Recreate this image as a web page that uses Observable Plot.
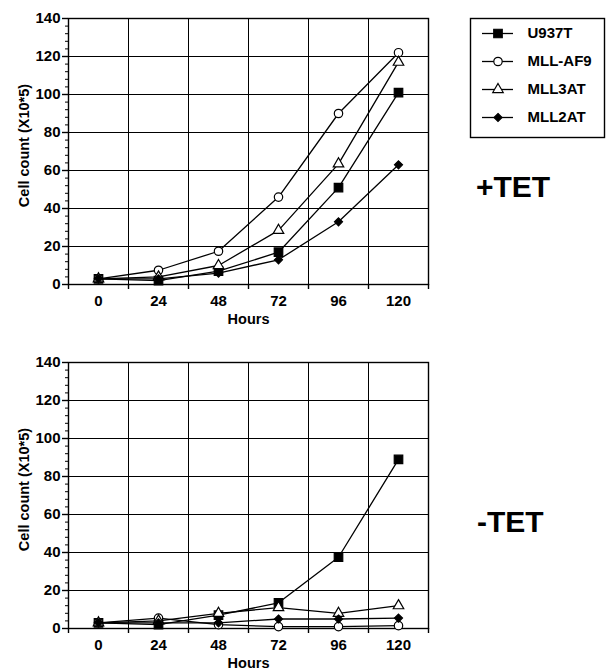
<!DOCTYPE html>
<html>
<head>
<meta charset="utf-8">
<script src="https://cdn.jsdelivr.net/npm/d3@7"></script>
<script src="https://cdn.jsdelivr.net/npm/@observablehq/plot@0.6"></script>
<style>
  html, body { margin: 0; padding: 0; background: white; }
  #page { position: relative; width: 608px; height: 671px; overflow: hidden; font-family: "Liberation Sans", Arial, sans-serif; }
  .abs { position: absolute; }
  .cond { font-weight: bold; font-size: 30px; line-height: 30px; color: black; }
</style>
</head>
<body>
<div id="page">
  <div id="top" class="abs" style="left:0;top:0"></div>
  <div id="bottom" class="abs" style="left:0;top:344px"></div>
  <div id="legend" class="abs" style="left:470px;top:18px"></div>
  <div class="abs cond" style="left:476px;top:172px">+TET</div>
  <div class="abs cond" style="left:477px;top:507px">-TET</div>
</div>
<script>
// ---- data ----
const hours = [0, 24, 48, 72, 96, 120];
const seriesNames = ["U937T", "MLL-AF9", "MLL3AT", "MLL2AT"];
const yLabel = "Cell count (X10*5)";
const xLabel = "Hours";

// +TET
const plusU937T  = [3, 2, 7, 17, 51, 101];
const plusMLLAF9 = [3, 7.5, 17.5, 46, 90, 122];
const plusMLL3AT = [3, 4, 10, 28.5, 63.5, 117];
const plusMLL2AT = [3, 3, 6, 13, 33, 63];
// -TET
const minusU937T  = [3, 2, 7, 13.5, 37.5, 89];
const minusMLLAF9 = [3, 5.5, 2, 1, 1, 1.5];
const minusMLL3AT = [3, 4, 8, 11, 8, 12];
const minusMLL2AT = [3, 3, 3, 5, 5, 5.5];

// tick values
const yMajorTicks = [0, 20, 40, 60, 80, 100, 120, 140];
const yMinorTicks = d3.range(0, 141, 4);
const xGridLines = [-12, 12, 36, 60, 84, 108, 132];

// ---- styles ----
const seriesSymbol = ["square", "circle", "triangle", "diamond2"];
const seriesFill = ["black", "white", "white", "black"];
const seriesR = [4.8, 4.2, 3.9, 3.6];
const FONT = "'Liberation Sans', Arial, sans-serif";

function toRows(arrays) {
  const rows = [];
  arrays.forEach((vals, i) => vals.forEach((v, j) => rows.push({series: seriesNames[i], hour: hours[j], count: v})));
  return rows;
}

function chart(arrays) {
  const data = toRows(arrays);
  return Plot.plot({
    width: 440, height: 328,
    marginLeft: 68, marginRight: 12, marginTop: 18, marginBottom: 44,
    style: {fontFamily: FONT, fontSize: "15px", fontWeight: "bold", color: "black", background: "white", overflow: "visible"},
    x: {domain: [-12, 132]},
    y: {domain: [0, 140]},
    marks: [
      Plot.gridY(yMajorTicks.filter(d => d > 0), {stroke: "black", strokeOpacity: 1, strokeWidth: 1}),
      Plot.gridX(xGridLines, {stroke: "black", strokeOpacity: 1, strokeWidth: 1}),
      Plot.frame({stroke: "black", strokeWidth: 1.4}),
      Plot.axisY(yMinorTicks, {tickSize: 3, tickFormat: () => "", label: null}),
      Plot.axisY(yMajorTicks, {tickSize: 6, tickPadding: 2, label: null, strokeWidth: 1.4}),
      Plot.axisX(xGridLines, {tickSize: 5, tickFormat: () => "", label: null, strokeWidth: 1.4}),
      Plot.axisX(hours, {tickSize: 0, tickPadding: 11, label: null}),
      Plot.line(data, {x: "hour", y: "count", z: "series", stroke: "black", strokeWidth: 1.3}),
      ...seriesNames.map((name, i) => Plot.dot(data.filter(d => d.series === name), {
        x: "hour", y: "count", symbol: seriesSymbol[i], fill: seriesFill[i], stroke: "black", strokeWidth: 1.2, r: seriesR[i]
      })),
      Plot.text([xLabel], {frameAnchor: "bottom", dy: 39, fontSize: 14.5, fontWeight: "bold", fill: "black"}),
      Plot.text([yLabel], {frameAnchor: "left", textAnchor: "middle", dx: -44, dy: -6, rotate: -90, fontSize: 14.5, fontWeight: "bold", fill: "black"})
    ]
  });
}

document.getElementById("top").append(chart([plusU937T, plusMLLAF9, plusMLL3AT, plusMLL2AT]));
document.getElementById("bottom").append(chart([minusU937T, minusMLLAF9, minusMLL3AT, minusMLL2AT]));

// legend
const legend = Plot.plot({
  width: 134, height: 119,
  marginLeft: 0, marginRight: 0, marginTop: 0, marginBottom: 0,
  style: {fontFamily: FONT, fontSize: "15px", fontWeight: "bold", color: "black", background: "white", overflow: "visible"},
  x: {domain: [0, 134], axis: null},
  y: {type: "point", domain: seriesNames, range: [15, 99], padding: 0, axis: null},
  marks: [
    Plot.frame({stroke: "black", strokeWidth: 1.4}),
    Plot.ruleY(seriesNames, {y: d => d, x1: 12, x2: 43, stroke: "black", strokeWidth: 1.3}),
    ...seriesNames.map((name, i) => Plot.dot([name], {
      x: 27.5, y: d => d, symbol: seriesSymbol[i], fill: seriesFill[i], stroke: "black", strokeWidth: 1.2, r: seriesR[i]
    })),
    Plot.text(seriesNames, {x: 57, y: d => d, textAnchor: "start", fontSize: 15, fontWeight: "bold", fill: "black"})
  ]
});
document.getElementById("legend").append(legend);
</script>
</body>
</html>
